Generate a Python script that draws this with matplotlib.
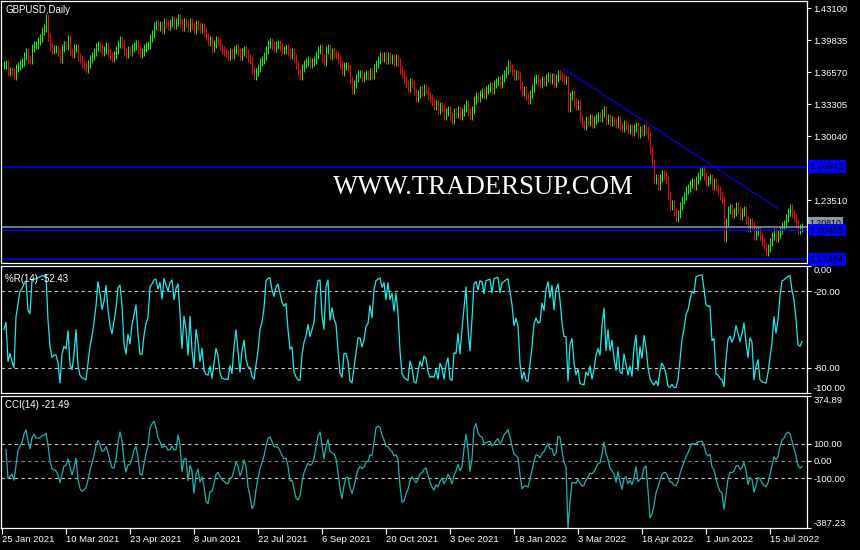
import numpy as np
import pandas as pd
import matplotlib
matplotlib.use("Agg")
import matplotlib.pyplot as plt
from matplotlib.transforms import blended_transform_factory

plt.rcParams['font.family'] = ['Liberation Sans', 'DejaVu Sans']

# daily closes, 25 Jan 2021 .. early Aug 2022
closes = [
    1.3730, 1.3740, 1.3659, 1.3669, 1.3659, 1.3618, 1.3699, 1.3720, 1.3740, 1.3761,
    1.3822, 1.3863, 1.3791, 1.3781, 1.3903, 1.3934, 1.3934, 1.3975, 1.4005, 1.4077,
    1.4107, 1.4209, 1.4016, 1.3914, 1.3883, 1.3893, 1.3893, 1.3863, 1.3791, 1.3903,
    1.3934, 1.3924, 1.3995, 1.3863, 1.3842, 1.3903, 1.3903, 1.3812, 1.3791, 1.3740,
    1.3720, 1.3689, 1.3740, 1.3791, 1.3822, 1.3863, 1.3914,
    1.3934, 1.3903, 1.3863, 1.3883, 1.3924, 1.3863, 1.3822, 1.3801, 1.3832, 1.3883,
    1.3944, 1.3985, 1.3944, 1.3863, 1.3842, 1.3883, 1.3863, 1.3903, 1.3924, 1.3944,
    1.3883, 1.3842, 1.3863, 1.3903, 1.3924, 1.3934, 1.4005, 1.4046, 1.4128, 1.4148,
    1.4118, 1.4138, 1.4087, 1.4169, 1.4148, 1.4128, 1.4158, 1.4189, 1.4138, 1.4169,
    1.4209, 1.4158, 1.4118, 1.4169, 1.4148, 1.4107, 1.4169, 1.4128, 1.4087, 1.4148,
    1.4128, 1.4097, 1.4118, 1.4067, 1.4016, 1.3965, 1.3985, 1.3903, 1.3944, 1.3985,
    1.3965, 1.3914, 1.3883, 1.3863, 1.3842, 1.3822, 1.3863, 1.3832, 1.3883, 1.3903,
    1.3863, 1.3822, 1.3863, 1.3883, 1.3842, 1.3801, 1.3781, 1.3679, 1.3618, 1.3659,
    1.3699, 1.3761, 1.3781, 1.3822, 1.3883, 1.3944, 1.3965, 1.3924, 1.3903, 1.3934,
    1.3944, 1.3914, 1.3883, 1.3883, 1.3903, 1.3863, 1.3832,
    1.3863, 1.3801, 1.3730, 1.3659, 1.3618, 1.3699, 1.3740, 1.3761, 1.3781, 1.3740,
    1.3761, 1.3781, 1.3832, 1.3883, 1.3903, 1.3801, 1.3761, 1.3883, 1.3903, 1.3822,
    1.3863, 1.3842, 1.3832, 1.3781, 1.3730, 1.3659, 1.3720, 1.3720, 1.3699, 1.3577,
    1.3475, 1.3536, 1.3597, 1.3638, 1.3638, 1.3597, 1.3618, 1.3638, 1.3618, 1.3659,
    1.3628, 1.3699, 1.3740, 1.3781, 1.3822, 1.3801, 1.3822, 1.3781, 1.3822, 1.3781,
    1.3801, 1.3761, 1.3801, 1.3761, 1.3679, 1.3638, 1.3577, 1.3536, 1.3495, 1.3557,
    1.3536, 1.3455, 1.3393, 1.3434, 1.3475, 1.3455, 1.3495, 1.3475, 1.3414, 1.3393,
    1.3353, 1.3312, 1.3332, 1.3271, 1.3312, 1.3291, 1.3210, 1.3251, 1.3271, 1.3210,
    1.3169, 1.3251, 1.3230, 1.3271, 1.3210, 1.3251, 1.3291, 1.3332, 1.3251, 1.3210,
    1.3271, 1.3373, 1.3414, 1.3393, 1.3434, 1.3455, 1.3424, 1.3475, 1.3495, 1.3516,
    1.3475, 1.3536, 1.3557, 1.3577, 1.3536, 1.3597, 1.3638, 1.3679, 1.3740, 1.3699,
    1.3659, 1.3618, 1.3638, 1.3618, 1.3516, 1.3455, 1.3475, 1.3414, 1.3373, 1.3434,
    1.3495, 1.3577, 1.3597, 1.3557, 1.3536, 1.3577, 1.3557, 1.3597, 1.3618, 1.3577,
    1.3608, 1.3546, 1.3597, 1.3638, 1.3618, 1.3597, 1.3577, 1.3577, 1.3291, 1.3414,
    1.3434, 1.3353, 1.3312, 1.3332, 1.3189, 1.3128, 1.3108, 1.3169, 1.3149, 1.3189,
    1.3128, 1.3169, 1.3189, 1.3210, 1.3189, 1.3240, 1.3271, 1.3169, 1.3189, 1.3149,
    1.3169, 1.3149, 1.3128, 1.3169, 1.3108, 1.3087, 1.3128, 1.3108, 1.3067, 1.3087,
    1.3047, 1.3087, 1.3108, 1.3026, 1.3067, 1.3047, 1.3087, 1.3067, 1.3006, 1.2863,
    1.2720, 1.2557, 1.2577, 1.2496, 1.2577, 1.2618, 1.2598, 1.2557, 1.2394, 1.2292,
    1.2312, 1.2231, 1.2169, 1.2210, 1.2292, 1.2353, 1.2394, 1.2455, 1.2475, 1.2516,
    1.2537, 1.2496, 1.2557, 1.2598, 1.2639, 1.2659, 1.2598, 1.2537, 1.2557, 1.2577,
    1.2496, 1.2537, 1.2475, 1.2455, 1.2394, 1.2353, 1.1965, 1.2129, 1.2251, 1.2271,
    1.2210, 1.2231, 1.2292, 1.2251, 1.2190, 1.2231, 1.2251, 1.2149, 1.2067, 1.2129,
    1.2088, 1.1986, 1.2027, 1.2047, 1.1986, 1.1925, 1.1884, 1.1823, 1.1863, 1.1925,
    1.1986, 1.2027, 1.1965, 1.2006, 1.2047, 1.2088, 1.2108, 1.2169, 1.2231, 1.2271,
    1.2210, 1.2169, 1.2108, 1.2047, 1.2067, 1.2081,
]
wick = 0.004

date_labels = ['25 Jan 2021', '10 Mar 2021', '23 Apr 2021', '8 Jun 2021', '22 Jul 2021',
               '6 Sep 2021', '20 Oct 2021', '3 Dec 2021', '18 Jan 2022', '3 Mar 2022',
               '18 Apr 2022', '1 Jun 2022', '15 Jul 2022']
price_ticks = [1.43100, 1.39835, 1.36570, 1.33305, 1.30040, 1.23510]
level_lines = [1.26942, 1.20465, 1.17484]
last_price = 1.20810
trend_x = [280, 387.5]
trend_y = [1.3689, 1.2261]
wpr_label = '%R(14) -52.43'
cci_label = 'CCI(14) -21.49'
cci_min, cci_max = -387.23, 374.89

# OHLC + indicators
c = pd.Series(closes)
o = c.shift(1).fillna(c.iloc[0])
h = np.maximum(o, c) + wick
l = np.minimum(o, c) - wick
x = np.arange(len(c))

hh = h.rolling(14, min_periods=1).max()
ll = l.rolling(14, min_periods=1).min()
wpr = -100 * (hh - c) / (hh - ll)

tp = (h + l + c) / 3
sma = tp.rolling(14, min_periods=2).mean()
md = tp.rolling(14, min_periods=2).apply(lambda v: np.mean(np.abs(v - v.mean())), raw=True)
cci = ((tp - sma) / (0.015 * md)).clip(cci_min, cci_max)

W, H = 860, 550
fig = plt.figure(figsize=(W / 100, H / 100), dpi=100, facecolor='black')


def box(x0, y0, x1, y1):
    return [x0 / W, 1 - y1 / H, (x1 - x0) / W, (y1 - y0) / H]


ax1 = fig.add_axes(box(1, 1, 807, 263))
ax2 = fig.add_axes(box(1, 266, 807, 393))
ax3 = fig.add_axes(box(1, 396, 807, 528))

for ax in (ax1, ax2, ax3):
    ax.set_facecolor('black')
    for s in ax.spines.values():
        s.set_color('white')
        s.set_linewidth(0.9)
    ax.set_xlim(-1.5, 401.5)
    ax.yaxis.tick_right()
    ax.tick_params(axis='y', colors='white', labelsize=6.8, length=3, width=0.8, pad=1.5)
    ax.tick_params(axis='x', bottom=False, labelbottom=False)

# price panel
ax1.set_ylim(1.1710, 1.4383)
up = (c >= o).values
ax1.vlines(x, l, h, colors=np.where(up, '#00ff00', '#ff0000'), lw=0.72)
for v in level_lines:
    ax1.axhline(v, color='#0000ff', lw=1.1)
ax1.axhline(last_price, color='#8c98a6', lw=1.1)
ax1.plot(trend_x, trend_y, color='#0000ff', lw=0.8)
ax1.set_yticks(price_ticks)
ax1.set_yticklabels([f'{v:.5f}' for v in price_ticks])

tr = blended_transform_factory(ax1.transAxes, ax1.transData)
ax1.text(1.003, last_price + 0.0035, f'{last_price:.5f}', transform=tr, color='black',
         fontsize=6.3, ha='left', va='center', clip_on=False, zorder=1,
         bbox=dict(boxstyle='square,pad=0.15', fc='#8c98a6', ec='none'))
for v in level_lines:
    ax1.text(1.003, v, f'{v:.5f}', transform=tr, color='black', fontsize=6.8,
             ha='left', va='center', clip_on=False, zorder=3,
             bbox=dict(boxstyle='square,pad=0.2', fc='#0000ff', ec='none'))

ax1.text(0.006, 0.965, 'GBPUSD,Daily', transform=ax1.transAxes, color='white',
         fontsize=7, ha='left', va='center')
fig.text(483 / W, 1 - 194 / H, 'WWW.TRADERSUP.COM', family='Liberation Serif',
         fontsize=19.3, color='white', ha='center', va='baseline')

# Williams %R panel
ax2.set_ylim(-100, 0)
for v in (-20, -80):
    ax2.axhline(v, color='#c8c8c8', lw=0.8, ls=(0, (3, 3)))
ax2.plot(x, wpr, color='#20e8e8', lw=0.9)
ax2.set_yticks([0, -20, -80, -100])
ax2.set_yticklabels(['0.00', '-20.00', '-80.00', '-100.00'])
lbls = ax2.get_yticklabels()
lbls[0].set_va('top')
lbls[-1].set_va('bottom')
ax2.text(0.005, 0.9, wpr_label, transform=ax2.transAxes, color='white',
         fontsize=7, ha='left', va='center')

# CCI panel
ax3.set_ylim(cci_min, cci_max)
for v in (100, -100):
    ax3.axhline(v, color='#c8c8c8', lw=0.8, ls=(0, (3, 3)))
ax3.axhline(0, color='#778899', lw=0.8, ls=(0, (3, 3)))
ax3.plot(x, cci, color='#20b2aa', lw=0.9)
ax3.set_yticks([cci_max, 100, 0, -100, cci_min])
ax3.set_yticklabels([f'{cci_max:.2f}', '100.00', '0.00', '-100.00', f'{cci_min:.2f}'])
lbls = ax3.get_yticklabels()
lbls[0].set_va('top')
lbls[-1].set_va('bottom')
ax3.text(0.005, 0.93, cci_label, transform=ax3.transAxes, color='white',
         fontsize=7, ha='left', va='center')

ax3.tick_params(axis='x', bottom=True, labelbottom=True, colors='white',
                labelsize=6.8, length=4, width=0.8, direction='out', pad=1)
ax3.set_xticks([32 * k - 1 for k in range(len(date_labels))])
ax3.set_xticklabels(date_labels, ha='left')

fig.savefig('out.png', dpi=100, facecolor='black')
